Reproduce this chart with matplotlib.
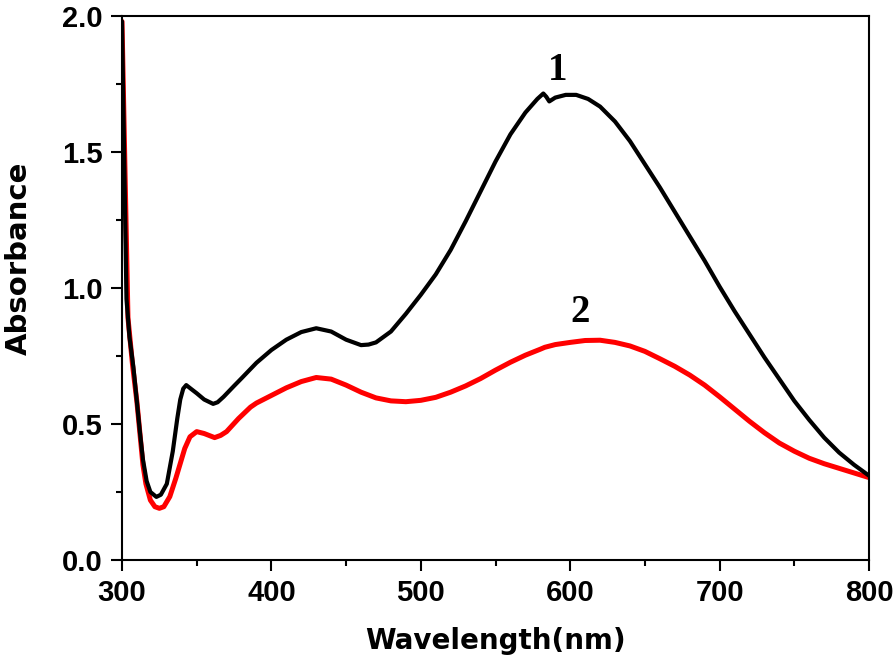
import matplotlib
matplotlib.use("Agg")
import matplotlib.pyplot as plt
from matplotlib.ticker import MultipleLocator

# ---- data ----
wl_1 = [300, 303, 305, 307.6, 310, 312, 314, 316.5, 319, 323, 326, 330, 334, 337, 339, 341,
        343, 346, 350, 355, 361, 364, 368, 375, 380, 390, 400, 410, 420, 430, 440, 450, 460,
        465, 470, 480, 490, 500, 510, 520, 530, 540, 550, 560, 570, 578, 582, 584, 586,
        590, 597, 604, 612, 620, 630, 640, 650, 660, 670, 680, 690, 700, 710, 720, 730,
        740, 750, 760, 770, 780, 790, 800]
abs_1 = [1.98, 0.96, 0.82, 0.71, 0.58, 0.47, 0.37, 0.29, 0.25, 0.232, 0.24, 0.28, 0.40, 0.52,
         0.59, 0.63, 0.643, 0.63, 0.613, 0.59, 0.574, 0.58, 0.60, 0.64, 0.668, 0.725, 0.772,
         0.81, 0.838, 0.852, 0.84, 0.81, 0.79, 0.792, 0.80, 0.84, 0.905, 0.975, 1.05, 1.14,
         1.245, 1.355, 1.465, 1.565, 1.645, 1.695, 1.715, 1.703, 1.686, 1.70, 1.71, 1.71,
         1.695, 1.667, 1.612, 1.54, 1.455, 1.37, 1.28, 1.19, 1.10, 1.005, 0.915, 0.83,
         0.745, 0.665, 0.585, 0.515, 0.45, 0.395, 0.35, 0.31]

wl_2 = [300, 304, 307, 310, 314, 316, 319, 322, 325, 328, 332, 336, 339, 342, 345.5, 350, 355,
        362, 366, 370, 378, 386, 390, 400, 410, 420, 430, 440, 450, 460, 470, 480, 490, 500,
        510, 520, 530, 540, 550, 560, 570, 580, 583, 590, 600, 610, 620, 630, 640, 650, 660,
        670, 680, 690, 700, 710, 720, 730, 740, 750, 760, 770, 780, 790, 800]
abs_2 = [1.98, 0.89, 0.72, 0.58, 0.35, 0.28, 0.22, 0.196, 0.19, 0.196, 0.233, 0.30, 0.355,
         0.41, 0.453, 0.472, 0.465, 0.45, 0.458, 0.472, 0.52, 0.562, 0.577, 0.605, 0.633,
         0.656, 0.671, 0.665, 0.643, 0.617, 0.596, 0.585, 0.582, 0.587, 0.598, 0.617, 0.64,
         0.667, 0.698, 0.727, 0.753, 0.775, 0.782, 0.792, 0.80, 0.807, 0.808, 0.80, 0.787,
         0.767, 0.74, 0.712, 0.68, 0.643, 0.60, 0.555, 0.51, 0.468, 0.43, 0.40, 0.374,
         0.354, 0.337, 0.32, 0.303]

labels = ["1", "2"]
label_pos = [(591.5, 1.80), (606.6, 0.91)]

xticks = [300, 400, 500, 600, 700, 800]
yticks = [0.0, 0.5, 1.0, 1.5, 2.0]

# ---- plotting ----
fig = plt.figure(figsize=(8.96, 6.68), dpi=100)
ax = fig.add_axes([122/896, 1 - 560/668, (869-122)/896, (560-16)/668])

ax.plot(wl_2, abs_2, color="#ff0000", lw=3.6, solid_joinstyle="round", solid_capstyle="round", zorder=2)
ax.plot(wl_1, abs_1, color="black", lw=3.0, solid_joinstyle="round", solid_capstyle="round", zorder=3)

ax.set_xlim(300, 800)
ax.set_ylim(0, 2.0)
ax.set_xticks(xticks)
ax.set_yticks(yticks)
ax.xaxis.set_minor_locator(MultipleLocator(50))
ax.yaxis.set_minor_locator(MultipleLocator(0.25))
ax.set_xticklabels([str(t) for t in xticks])
ax.set_yticklabels([f"{t:.1f}" for t in yticks])

for s in ax.spines.values():
    s.set_linewidth(1.5)

ax.tick_params(which="major", direction="out", length=8, width=1.5, pad=6,
               top=False, right=False)
ax.tick_params(which="minor", direction="out", length=4.5, width=1.5,
               top=False, right=False)
for lab in ax.get_xticklabels() + ax.get_yticklabels():
    lab.set_fontfamily(["Liberation Sans", "DejaVu Sans"])
    lab.set_fontweight("bold")
    lab.set_fontsize(21)

ax.set_xlabel("Wavelength(nm)", fontsize=20, fontweight="bold",
              family=["DejaVu Sans"], labelpad=14)
ax.set_ylabel("Absorbance", fontsize=21, fontweight="bold",
              family=["DejaVu Sans"])
ax.yaxis.set_label_coords(-0.12, 0.555)

for t, (x, y) in zip(labels, label_pos):
    ax.text(x, y, t, fontsize=28, fontweight="bold", family=["Liberation Serif", "DejaVu Serif"],
            ha="center", va="center")

fig.savefig("out.png", dpi=100)
